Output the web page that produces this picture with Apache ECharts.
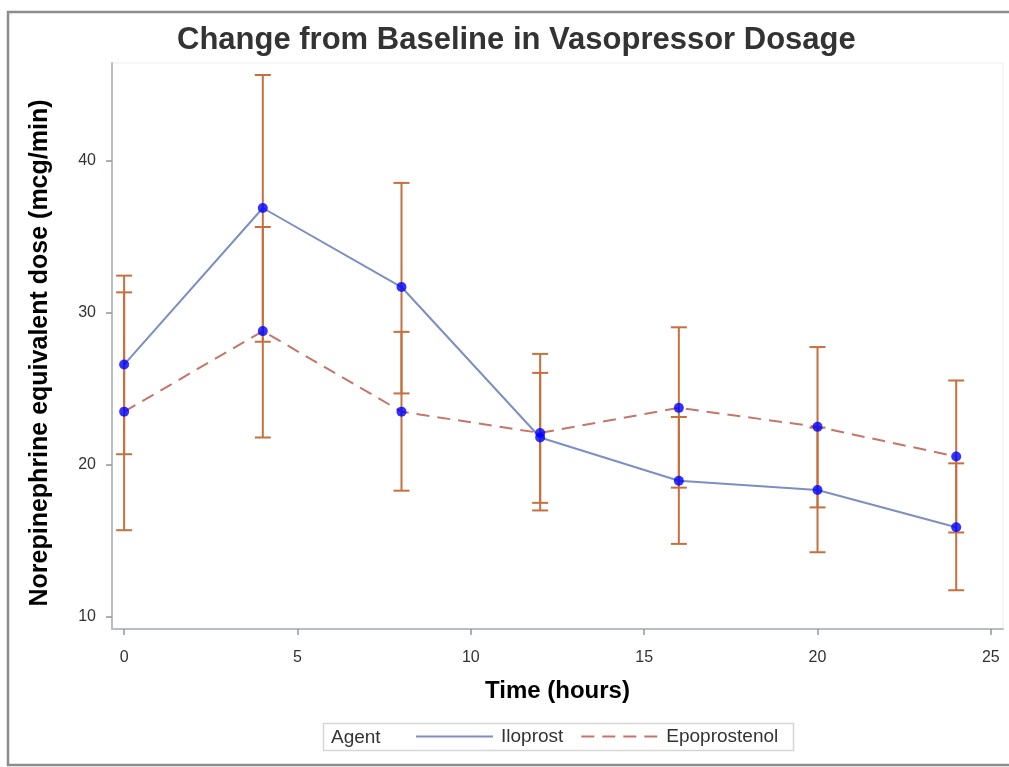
<!DOCTYPE html>
<html>
<head>
<meta charset="utf-8">
<script src="https://cdn.jsdelivr.net/npm/echarts@6/dist/echarts.min.js"></script>
<style>
html,body{margin:0;padding:0;background:#fff;}
#chart{width:1009px;height:767px;}
</style>
</head>
<body>
<div id="chart"></div>
<script>
// ---- Data ----
var timeHours = [0, 4, 8, 12, 16, 20, 24];
var iloprostMean  = [26.6, 36.9, 31.7, 21.8, 18.95, 18.35, 15.9];
var iloprostLower = [20.7, 28.1, 24.7, 17.5, 14.8, 14.25, 11.75];
var iloprostUpper = [32.45, 45.65, 38.55, 26.05, 23.15, 22.45, 20.1];
var epoMean  = [23.5, 28.8, 23.5, 22.1, 23.75, 22.5, 20.55];
var epoLower = [15.7, 21.8, 18.3, 17.0, 18.5, 17.2, 15.55];
var epoUpper = [31.35, 35.65, 28.75, 27.3, 29.05, 27.75, 25.55];
var xTicks = [0, 5, 10, 15, 20, 25];
var yTicks = [10, 20, 30, 40];
var seriesNames = ['Iloprost', 'Epoprostenol'];

var FONT = '"Liberation Sans", Arial, sans-serif';
var ERR_COLOR = '#c6703f';

function pairs(xs, ys) { return xs.map(function (x, i) { return [x, ys[i]]; }); }
function triples(xs, lo, hi) { return xs.map(function (x, i) { return [x, lo[i], hi[i]]; }); }

function renderErr(params, api) {
  var x = api.value(0);
  var p1 = api.coord([x, api.value(1)]);
  var p2 = api.coord([x, api.value(2)]);
  var hw = 8;
  var st = { stroke: ERR_COLOR, lineWidth: 2 };
  return {
    type: 'group',
    children: [
      { type: 'line', shape: { x1: p1[0], y1: p1[1], x2: p2[0], y2: p2[1] }, style: st },
      { type: 'line', shape: { x1: p1[0] - hw, y1: p1[1], x2: p1[0] + hw, y2: p1[1] }, style: st },
      { type: 'line', shape: { x1: p2[0] - hw, y1: p2[1], x2: p2[0] + hw, y2: p2[1] }, style: st }
    ]
  };
}

var chart = echarts.init(document.getElementById('chart'), null, { renderer: 'canvas' });
chart.setOption({
  animation: false,
  backgroundColor: '#ffffff',
  textStyle: { fontFamily: FONT },
  title: {
    text: 'Change from Baseline in Vasopressor Dosage',
    left: 172,
    top: 20,
    textStyle: { fontFamily: FONT, fontSize: 31, fontWeight: 'bold', color: '#333333' }
  },
  grid: {
    left: 112, right: 6, top: 63, bottom: 138,
    show: true, borderColor: '#ececec', borderWidth: 1,
    containLabel: false
  },
  legend: {
    left: 415, top: 727, padding: 0,
    itemWidth: 77, itemHeight: 14, itemGap: 17,
    data: seriesNames,
    itemStyle: { opacity: 0 },
    textStyle: { fontFamily: FONT, fontSize: 19, color: '#333333', padding: [0, 0, 0, 3] }
  },
  graphic: [
    { type: 'rect', z: 100, shape: { x: 8, y: 12, width: 1010, height: 753 },
      style: { fill: 'none', stroke: '#8c8c8c', lineWidth: 2.5 } },
    { type: 'rect', z: 100, shape: { x: 323.5, y: 723.5, width: 470, height: 27 },
      style: { fill: 'none', stroke: '#d6d6d6', lineWidth: 1.5 } },
    { type: 'text', z: 100, left: 331, top: 728,
      style: { text: 'Agent', font: '19px ' + FONT, fill: '#333333' } }
  ],
  xAxis: {
    type: 'value',
    min: -0.35, max: 25.35,
    name: 'Time (hours)',
    nameLocation: 'middle',
    nameGap: 50,
    nameTextStyle: { fontFamily: FONT, fontSize: 24, fontWeight: 'bold', color: '#000000' },
    axisLine: { show: true, onZero: false, lineStyle: { color: '#b8bfc4', width: 2 } },
    axisTick: { show: true, length: 6, customValues: xTicks, lineStyle: { color: '#8f969a', width: 1.5 } },
    axisLabel: { customValues: xTicks, margin: 21, fontSize: 16, color: '#333333', fontFamily: FONT },
    splitLine: { show: false }
  },
  yAxis: {
    type: 'value',
    min: 9.2, max: 46.44,
    name: 'Norepinephrine equivalent dose (mcg/min)',
    nameLocation: 'middle',
    nameGap: 59,
    nameTextStyle: { fontFamily: FONT, fontSize: 25, fontWeight: 'bold', color: '#000000', padding: [0, 14, 0, 0] },
    axisLine: { show: true, onZero: false, lineStyle: { color: '#b8bfc4', width: 2 } },
    axisTick: { show: true, length: 6, customValues: yTicks, lineStyle: { color: '#8f969a', width: 1.5 } },
    axisLabel: { customValues: yTicks, margin: 16, fontSize: 16, color: '#333333', fontFamily: FONT },
    splitLine: { show: false }
  },
  series: [
    { type: 'custom', name: 'IloprostErr', renderItem: renderErr, z: 1, silent: true,
      encode: { x: 0, y: [1, 2] }, data: triples(timeHours, iloprostLower, iloprostUpper) },
    { type: 'custom', name: 'EpoErr', renderItem: renderErr, z: 1, silent: true,
      encode: { x: 0, y: [1, 2] }, data: triples(timeHours, epoLower, epoUpper) },
    { type: 'line', name: 'Iloprost', z: 2, symbol: 'none',
      lineStyle: { color: '#7d8fc2', width: 2, type: 'solid' },
      itemStyle: { color: '#7d8fc2' },
      data: pairs(timeHours, iloprostMean) },
    { type: 'line', name: 'Epoprostenol', z: 2, symbol: 'none',
      lineStyle: { color: '#c4766b', width: 2, type: [13, 8] },
      itemStyle: { color: '#c4766b' },
      data: pairs(timeHours, epoMean) },
    { type: 'scatter', name: 'IloprostPts', z: 3, symbol: 'circle', symbolSize: 10,
      itemStyle: { color: '#0000ff' }, data: pairs(timeHours, iloprostMean) },
    { type: 'scatter', name: 'EpoPts', z: 3, symbol: 'circle', symbolSize: 10,
      itemStyle: { color: '#0000ff' }, data: pairs(timeHours, epoMean) }
  ]
});
</script>
</body>
</html>
